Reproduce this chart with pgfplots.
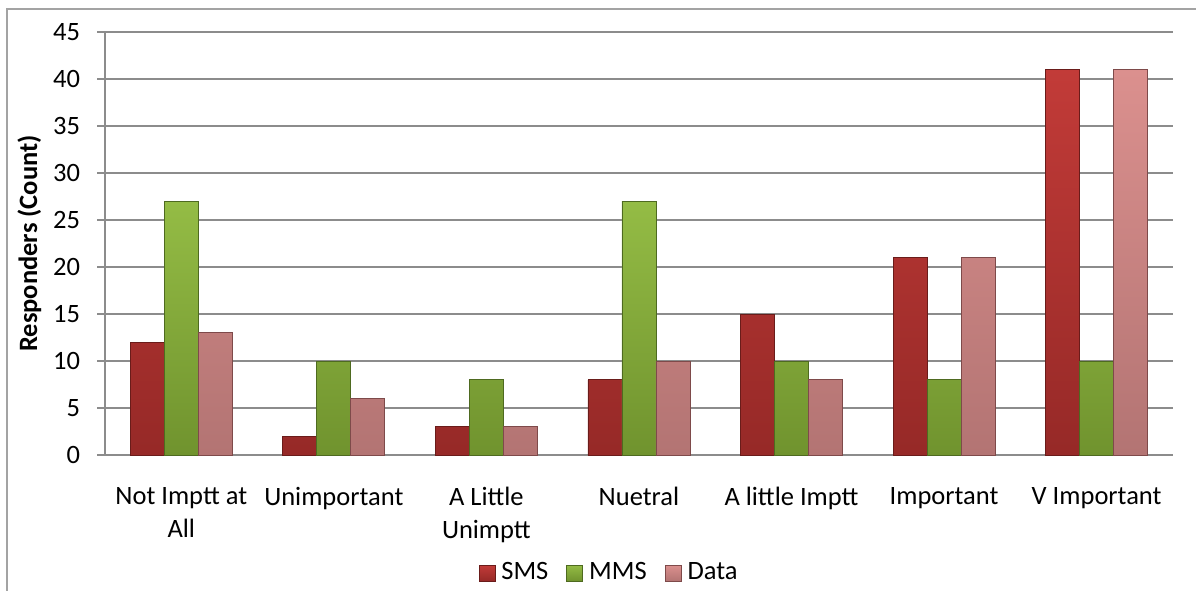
\documentclass[border=0pt]{standalone}
\usepackage{pgfplots}
\pgfplotsset{compat=1.18}
\usepackage{fontspec}
\setmainfont{Carlito}
\definecolor{gridc}{HTML}{8C8C8C}
\definecolor{smsT}{HTML}{C23B38}
\definecolor{smsB}{HTML}{962927}
\definecolor{smsD}{HTML}{6A1C1A}
\definecolor{mmsT}{HTML}{94BC45}
\definecolor{mmsB}{HTML}{70932E}
\definecolor{mmsD}{HTML}{4E6A20}
\definecolor{datT}{HTML}{DB908E}
\definecolor{datB}{HTML}{B37473}
\definecolor{datD}{HTML}{7E4A4A}
\pgfplotstableread{
x sms mms data
0 12 27 13
1 2 10 6
2 3 8 3
3 8 27 10
4 15 10 8
5 21 8 21
6 41 10 41
}\resp
\begin{document}
\fontsize{26.5}{32}\selectfont
\begin{tikzpicture}[x=1pt,y=1pt]
\draw[gridc!80, line width=1.5pt] (7,-900) -- (7,-9) -- (1500,-9);
\begin{axis}[
  at={(105pt,-455pt)}, anchor=south west,
  scale only axis, width=1068pt, height=423pt,
  xmin=-0.5, xmax=6.5, ymin=0, ymax=45,
  ytick={0,5,...,45},
  xtick={0,...,6},
  xticklabels={{Not Imptt at\\All},{Unimportant},{A Little\\Unimptt},{Nuetral},{A little Imptt},{Important},{V Important}},
  xticklabel style={align=center, font=\fontsize{26.5}{33}\selectfont, yshift=-15pt},
  yticklabel style={font=\fontsize{26.5}{30}\selectfont, xshift=-8pt},
  /pgf/number format/assume math mode=true,
  x tick style={draw=none},
  y tick style={draw=gridc, line width=1.2pt},
  tick align=outside, major tick length=8pt,
  extra x ticks={-0.5,0.5,...,6.5},
  extra x tick labels={},
  extra x tick style={grid=none, tick style={draw=gridc, line width=1.2pt}, major tick length=8pt},
  axis x line*=bottom, axis y line*=left,
  axis line style={draw=gridc, line width=1.2pt},
  ymajorgrids, grid style={draw=gridc, line width=1.2pt},
  ylabel={\textbf{Responders (Count)}},
  ylabel style={font=\fontsize{26.5}{30}\selectfont, yshift=-6pt},
  ybar=0pt, bar width=34pt,
  legend style={at={(0.472,-0.279)}, anchor=center, draw=none, legend columns=3,
    font=\fontsize{26.5}{30}\selectfont, /tikz/every even column/.append style={column sep=16pt}},
  legend image code/.code={\draw[#1] (0pt,-8pt) rectangle (16pt,8pt); \path (20pt,0pt);},
]
\addplot[draw=smsD, top color=smsT, bottom color=smsB, line width=0.8pt] table[x=x,y=sms]{\resp};
\addplot[draw=mmsD, top color=mmsT, bottom color=mmsB, line width=0.8pt] table[x=x,y=mms]{\resp};
\addplot[draw=datD, top color=datT, bottom color=datB, line width=0.8pt] table[x=x,y=data]{\resp};
\legend{SMS, MMS, Data}
\end{axis}
\pgfresetboundingbox
\useasboundingbox (0,-591) rectangle (1196,0);
\end{tikzpicture}
\end{document}
